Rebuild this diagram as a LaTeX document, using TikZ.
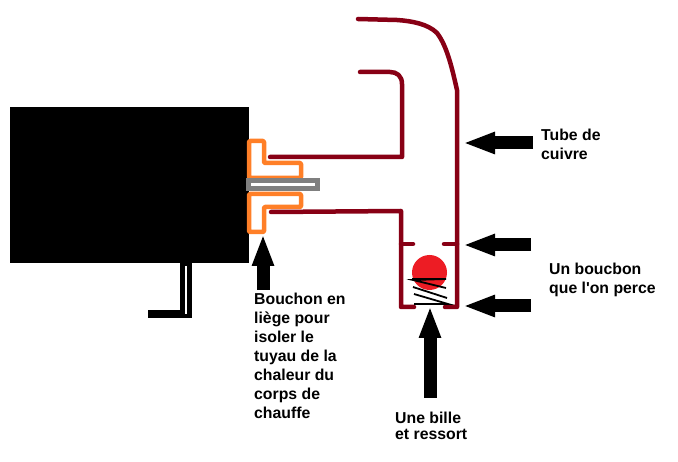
\documentclass[tikz,border=0pt]{standalone}
\usepackage{fontspec}
\setmainfont{Liberation Sans}
\usepackage{xcolor}
\usetikzlibrary{arrows.meta,positioning,calc}
\definecolor{tubered}{HTML}{880015}
\definecolor{corkorange}{HTML}{FF7F27}
\definecolor{ballred}{HTML}{ED1C24}
\definecolor{needlegray}{HTML}{7F7F7F}
\tikzset{
  tube/.style={draw=tubered, line width=4.5pt, line cap=round, line join=round},
  cork/.style={draw=corkorange, line width=4.5pt, line join=round, rounded corners=1pt},
  spring/.style={draw=black, line width=1.8pt},
  bigarrow/.style={-{Triangle[length=32pt,width=20pt]}, line width=13pt, black},
  note/.style={align=left, anchor=north west, inner sep=0pt, font=\fontsize{15.8}{19}\selectfont\bfseries}
}

\begin{document}
\begin{tikzpicture}[x=1pt, y=-1pt]
  \useasboundingbox (0,0) rectangle (678,462);
  % heating body and its foot
  \fill[black] (10,107) rectangle (249,263);
  \fill[black] (180,263) rectangle (192,318);
  \fill[black] (148,310) rectangle (192,318);
  \fill[white] (185,266) rectangle (187,314);
  % cork
  \draw[cork] (249,141) -- (264,141) -- (264,163) -- (301,163) -- (301,178) -- (249,178) -- cycle;
  \draw[cork] (249,194) -- (301,194) -- (301,207) -- (264,207) -- (264,232) -- (249,232) -- cycle;
  \draw[needlegray, line width=5pt, fill=white] (248.5,180.5) rectangle (317.5,188.5);
  % copper tube
  \draw[tube] (270,157) -- (402,157) -- (402,84) .. controls (402,76) and (397,72) .. (390,72) -- (360,72);
  \draw[tube] (271,212) -- (401,211) -- (401,307) -- (414,307);
  \draw[tube] (358,19) -- (397,20) .. controls (412,21) and (428,24) .. (437,33) .. controls (447,46) and (452,68) .. (457,90) -- (457,307) -- (445,307);
  \draw[tube] (401,244) -- (413,244);
  \draw[tube] (444,244) -- (457,244);
  % ball and spring
  \fill[ballred] (429.5,272.5) circle (17.5);
  \draw[spring] (412,279) -- (446,279) -- (413,280) -- (446,288);
  \draw[spring] (413,287) -- (447,298);
  \draw[spring] (414,294) -- (448,304) -- (414,304);
  % labels
  \node[note] (tubelabel) at (541,128.5) {Tube de\\cuivre};
  \node[note] (corelabel) at (549,262.5) {Un boucbon\\que l\textquotesingle on perce};
  \node[note] (corklabel) at (254,293) {Bouchon en\\liège pour\\isoler le\\tuyau de la\\chaleur du\\corps de\\chauffe};
  \node[note, font=\fontsize{15.8}{16}\selectfont\bfseries] (balllabel) at (395,411.5) {Une bille\\et ressort};
  % arrows
  \coordinate (tubetail) at (533,143);
  \coordinate (tubetip) at (463,143);
  \coordinate (coretail) at (531,245);
  \coordinate (coretip) at (463,245);
  \coordinate (seattail) at (531,306);
  \coordinate (seattip) at (463,306);
  \coordinate (corktail) at (263,290);
  \coordinate (corktip) at (263,234);
  \coordinate (balltail) at (430,398);
  \coordinate (balltip) at (430,306);
  \draw[bigarrow] (tubetail) -- (tubetip);
  \draw[bigarrow] (coretail) -- (coretip);
  \draw[bigarrow] (seattail) -- (seattip);
  \draw[bigarrow] (corktail) -- (corktip);
  \draw[bigarrow] (balltail) -- (balltip);
\end{tikzpicture}
\end{document}
